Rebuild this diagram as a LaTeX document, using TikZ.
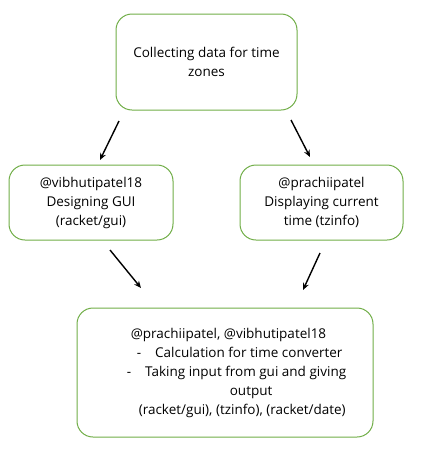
\documentclass[tikz,border=0pt]{standalone}
\usepackage{fontspec}
\setmainfont{Open Sans}
\usetikzlibrary{arrows.meta}
\definecolor{boxgreen}{RGB}{112,173,71}

\begin{document}
\begin{tikzpicture}[x=1pt, y=-1pt, font=\fontsize{13.5}{19}\selectfont, main/.style = {draw=boxgreen, line width=1pt, rounded corners=16pt, align=center}, link/.style = {-{Stealth[length=7pt,width=6pt]}, line width=1.4pt}]
        \useasboundingbox (0,0) rectangle (425,456);

        \node[main, minimum width=181pt, minimum height=96pt] (1) at (206.5,62) {Collecting data for time\\zones};
        \node[main, minimum width=164pt, minimum height=75pt] (2) at (91,202.5) {@vibhutipatel18\\Designing GUI\\(racket/gui)};
        \node[main, minimum width=163pt, minimum height=75pt] (3) at (321.5,202.5) {@prachiipatel\\Displaying current\\time (tzinfo)};
        \node[main, minimum width=296pt, minimum height=129pt, align=left] (4) at (225,372.5) {\hspace*{27pt}@prachiipatel, @vibhutipatel18\\
                \hspace*{33pt}-\hspace{14pt}Calculation for time converter\\
                \hspace*{23pt}-\hspace{14pt}Taking input from gui and giving\\
                \hspace*{126pt}output\\
                \hspace*{35pt}(racket/gui), (tzinfo), (racket/date)};

        \coordinate (1l) at (119,121);
        \coordinate (2t) at (100,160);
        \coordinate (1r) at (291,120);
        \coordinate (3t) at (310,157);
        \coordinate (2b) at (110,250);
        \coordinate (4l) at (141,288);
        \coordinate (3b) at (320,253);
        \coordinate (4r) at (303,290);

        \draw[link] (1l) -- (2t);
        \draw[link] (1r) -- (3t);
        \draw[link] (2b) -- (4l);
        \draw[link] (3b) -- (4r);

    \end{tikzpicture}
\end{document}
